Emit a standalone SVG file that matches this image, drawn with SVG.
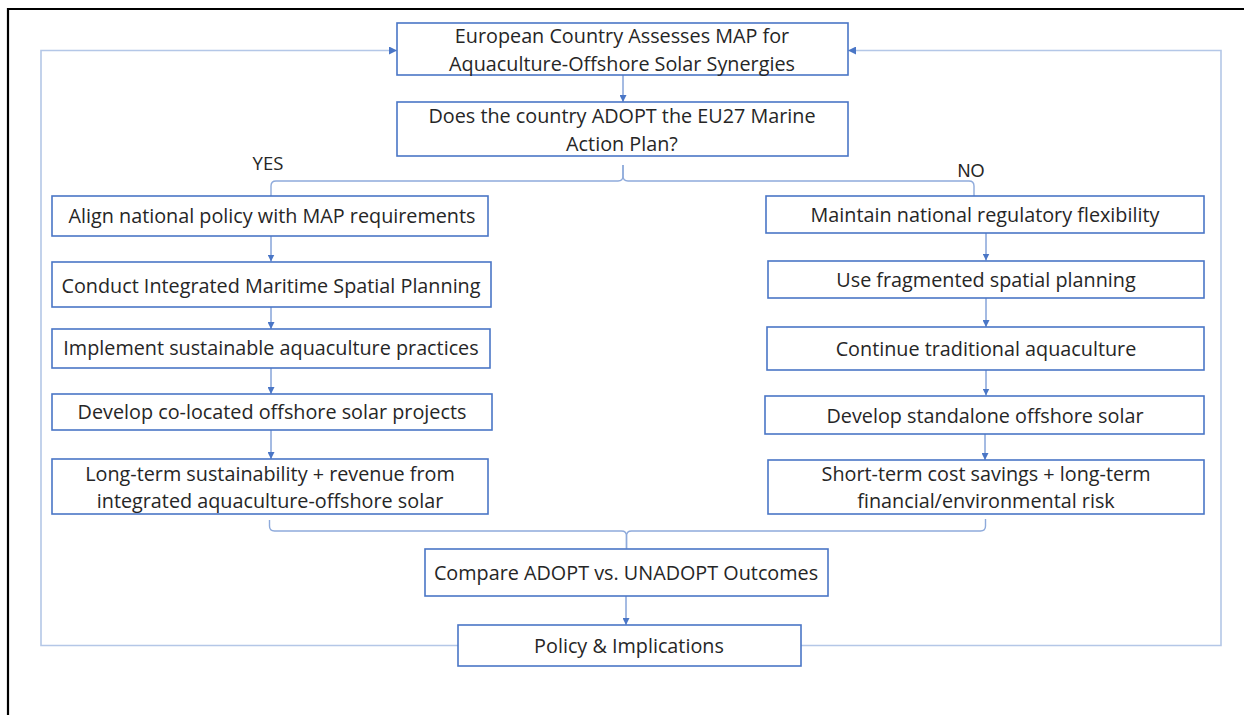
<svg xmlns="http://www.w3.org/2000/svg" width="1244" height="715" viewBox="0 0 1244 715">
<style>
.frame{fill:none;stroke:#000;stroke-width:2.2}
.box{fill:#fff;stroke:#4a76c6;stroke-width:1.6}
.t{font-family:"Open Sans",Lato,"Liberation Sans",sans-serif;font-size:19.8px;fill:#262626;text-anchor:middle}
.lbl{font-family:"Liberation Sans",Arial,sans-serif;font-size:18px;fill:#262626;text-anchor:middle}
.lblc{font-family:"Open Sans",Lato,"Liberation Sans",sans-serif;font-size:18.5px;fill:#262626;text-anchor:middle}
.arr{fill:none;stroke:#4a76c6;stroke-width:1;marker-end:url(#ah)}
.br{fill:none;stroke:#8eaadb;stroke-width:1.4}
.fba{fill:none;stroke:#b4c7e7;stroke-width:1.6;marker-end:url(#ah2)}
</style>
<defs>
<marker id="ah" viewBox="0 0 10 10" refX="10" refY="5" markerWidth="7" markerHeight="7" markerUnits="userSpaceOnUse" orient="auto">
<path d="M0,0 L10,5 L0,10 z" fill="#4a76c6"/>
</marker>
<marker id="ah2" viewBox="0 0 10 10" refX="10" refY="5" markerWidth="5" markerHeight="5" orient="auto">
<path d="M0,0 L10,5 L0,10 z" fill="#4a76c6"/>
</marker>
</defs>
<path class="frame" d="M8,716 V9 H1245"/>

<g id="connectors">
<path class="fba" d="M458,645.5 H41 V50.5 H397"/>
<path class="fba" d="M801,645.5 H1221 V50.5 H848"/>
<path class="arr" d="M623,75 V102"/>
<path class="br" d="M623,165 V176 Q623,181 618,181 H276 Q271,181 271,186 V196"/>
<path class="br" d="M623,165 V176 Q623,181 628,181 H969 Q974,181 974,186 V196"/>
<path class="arr" d="M271,236 V261.5"/>
<path class="arr" d="M271,307 V329"/>
<path class="arr" d="M271,368 V394"/>
<path class="arr" d="M271,430 V459"/>
<path class="arr" d="M986,233 V260.5"/>
<path class="arr" d="M986,298 V327"/>
<path class="arr" d="M986,370 V395.5"/>
<path class="arr" d="M985,434 V460"/>
<path class="br" d="M269.5,520 V526 Q269.5,531 274.5,531 H621.5 Q626.5,531 626.5,536 V548.5"/>
<path class="br" d="M985.5,519 V526 Q985.5,531 980.5,531 H631.5 Q626.5,531 626.5,536 V548.5"/>
<path class="arr" d="M626,596 V625"/>
</g>

<g id="n_assess">
<rect class="box" x="397" y="23" width="451" height="52"/>
<text class="t" x="622" y="43">European Country Assesses MAP for</text>
<text class="t" x="622" y="71">Aquaculture-Offshore Solar Synergies</text>
</g>
<g id="n_decision">
<rect class="box" x="397" y="102" width="451" height="54"/>
<text class="t" x="622" y="123">Does the country ADOPT the EU27 Marine</text>
<text class="t" x="622" y="151">Action Plan?</text>
</g>
<g id="lbl_yes"><text class="lblc" x="268" y="169.5">YES</text></g>
<g id="lbl_no"><text class="lbl" x="971" y="176.5">NO</text></g>

<g id="n_l1">
<rect class="box" x="52" y="196" width="436" height="40"/>
<text class="t" x="272" y="223">Align national policy with MAP requirements</text>
</g>
<g id="n_l2">
<rect class="box" x="52" y="262" width="439" height="45"/>
<text class="t" x="271" y="293">Conduct Integrated Maritime Spatial Planning</text>
</g>
<g id="n_l3">
<rect class="box" x="52" y="329" width="438" height="39"/>
<text class="t" x="271" y="355">Implement sustainable aquaculture practices</text>
</g>
<g id="n_l4">
<rect class="box" x="52" y="394" width="440" height="36"/>
<text class="t" x="272" y="419">Develop co-located offshore solar projects</text>
</g>
<g id="n_l5">
<rect class="box" x="52" y="459" width="436" height="55"/>
<text class="t" x="270" y="481">Long-term sustainability + revenue from</text>
<text class="t" x="270" y="508">integrated aquaculture-offshore solar</text>
</g>

<g id="n_r1">
<rect class="box" x="766" y="196" width="438" height="37"/>
<text class="t" x="985" y="222">Maintain national regulatory flexibility</text>
</g>
<g id="n_r2">
<rect class="box" x="768" y="261" width="436" height="37"/>
<text class="t" x="986" y="287">Use fragmented spatial planning</text>
</g>
<g id="n_r3">
<rect class="box" x="767" y="327" width="437" height="43"/>
<text class="t" x="986" y="356">Continue traditional aquaculture</text>
</g>
<g id="n_r4">
<rect class="box" x="765" y="396" width="439" height="38"/>
<text class="t" x="985" y="423">Develop standalone offshore solar</text>
</g>
<g id="n_r5">
<rect class="box" x="768" y="460" width="436" height="54"/>
<text class="t" x="986" y="481">Short-term cost savings + long-term</text>
<text class="t" x="986" y="508">financial/environmental risk</text>
</g>

<g id="n_compare">
<rect class="box" x="425" y="549" width="403" height="47"/>
<text class="t" x="626" y="580">Compare ADOPT vs. UNADOPT Outcomes</text>
</g>
<g id="n_policy">
<rect class="box" x="458" y="625" width="343" height="41"/>
<text class="t" x="629" y="653">Policy &amp; Implications</text>
</g>
</svg>
